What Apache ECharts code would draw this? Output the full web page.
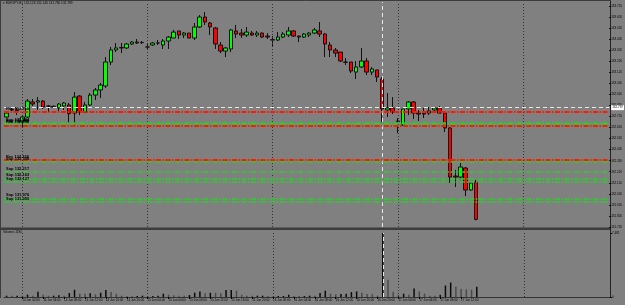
<!DOCTYPE html>
<html>
<head>
<meta charset="utf-8">
<script src="https://cdn.jsdelivr.net/npm/echarts@6/dist/echarts.min.js"></script>
<style>
html, body { margin: 0; padding: 0; background: #808080; }
#chart { width: 625px; height: 305px; }
</style>
</head>
<body>
<div id="chart"></div>
<script>
// EURJPY H1, 11 Jun 2021 21:00 .. 17 Jun 2021 15:00
var symbol = 'EURJPY,H1';

var opens = [132.715, 132.778, 132.776, 132.679, 132.715, 132.851, 132.851, 132.860, 132.815, 132.812,
  132.797, 132.815, 132.824, 132.751, 132.905, 132.760, 132.824, 132.914, 132.960, 132.996,
  133.213, 133.322, 133.345, 133.340, 133.376, 133.394, 133.388, 133.349, 133.367, 133.385,
  133.367, 133.403, 133.430, 133.494, 133.457, 133.475, 133.430, 133.530, 133.620, 133.566,
  133.521, 133.367, 133.312, 133.331, 133.494, 133.475, 133.457, 133.475, 133.457, 133.475,
  133.448, 133.415, 133.412, 133.439, 133.457, 133.494, 133.448, 133.439, 133.457, 133.475,
  133.494, 133.466, 133.367, 133.322, 133.303, 133.213, 133.213, 133.122, 133.168, 133.222,
  133.122, 133.141, 133.059, 132.779, 132.797, 132.679, 132.643, 132.788, 132.851, 132.751,
  132.751, 132.751, 132.779, 132.797, 132.751, 132.616, 132.181, 132.172, 132.254, 132.055,
  132.126];
var highs = [132.760, 132.797, 132.797, 132.724, 132.878, 132.878, 132.896, 132.869, 132.824, 132.820,
  132.842, 132.851, 132.842, 132.941, 132.914, 132.851, 132.932, 132.978, 133.023, 133.258,
  133.349, 133.385, 133.385, 133.385, 133.403, 133.421, 133.403, 133.376, 133.394, 133.412,
  133.421, 133.448, 133.503, 133.494, 133.484, 133.475, 133.566, 133.638, 133.665, 133.575,
  133.530, 133.394, 133.349, 133.512, 133.548, 133.512, 133.530, 133.494, 133.494, 133.480,
  133.475, 133.448, 133.484, 133.484, 133.530, 133.503, 133.452, 133.475, 133.484, 133.521,
  133.575, 133.475, 133.394, 133.340, 133.303, 133.249, 133.213, 133.222, 133.340, 133.249,
  133.168, 133.141, 133.077, 132.932, 132.896, 132.706, 132.788, 132.860, 132.860, 132.779,
  132.797, 132.806, 132.806, 132.815, 132.760, 132.625, 132.236, 132.299, 132.263, 132.127,
  132.146];
var lows = [132.706, 132.760, 132.733, 132.616, 132.706, 132.815, 132.779, 132.788, 132.760, 132.797,
  132.751, 132.779, 132.661, 132.625, 132.733, 132.751, 132.815, 132.869, 132.887, 132.978,
  133.186, 133.303, 133.294, 133.331, 133.367, 133.376, 133.376, 133.322, 133.358, 133.367,
  133.331, 133.331, 133.430, 133.421, 133.430, 133.430, 133.412, 133.521, 133.548, 133.457,
  133.331, 133.294, 133.258, 133.303, 133.430, 133.430, 133.439, 133.448, 133.439, 133.430,
  133.421, 133.349, 133.403, 133.430, 133.439, 133.439, 133.394, 133.430, 133.439, 133.466,
  133.439, 133.258, 133.258, 133.258, 133.213, 133.186, 133.113, 133.059, 133.159, 133.095,
  133.095, 133.032, 132.661, 132.715, 132.742, 132.570, 132.634, 132.733, 132.697, 132.679,
  132.706, 132.733, 132.751, 132.751, 132.579, 132.118, 132.082, 132.145, 132.000, 132.046,
  131.780];
var closes = [132.751, 132.782, 132.770, 132.715, 132.860, 132.833, 132.862, 132.806, 132.812, 132.805,
  132.833, 132.842, 132.745, 132.896, 132.760, 132.824, 132.914, 132.960, 133.005, 133.213,
  133.322, 133.340, 133.340, 133.376, 133.394, 133.385, 133.390, 133.349, 133.385, 133.385,
  133.403, 133.439, 133.484, 133.457, 133.475, 133.430, 133.530, 133.620, 133.575, 133.530,
  133.376, 133.312, 133.340, 133.503, 133.466, 133.457, 133.484, 133.457, 133.475, 133.439,
  133.439, 133.412, 133.439, 133.466, 133.494, 133.448, 133.439, 133.466, 133.475, 133.503,
  133.466, 133.376, 133.322, 133.294, 133.222, 133.210, 133.131, 133.168, 133.222, 133.122,
  133.150, 133.077, 132.788, 132.797, 132.760, 132.675, 132.788, 132.851, 132.751, 132.742,
  132.742, 132.770, 132.797, 132.751, 132.616, 132.172, 132.172, 132.263, 132.055, 132.118,
  131.789];
var volumes = [154, 149, 158, 152, 270, 154, 616, 270, 151, 156,
  193, 154, 462, 847, 385, 380, 424, 308, 501, 809,
  578, 385, 154, 116, 77, 116, 154, 116, 118, 154,
  385, 270, 193, 154, 150, 231, 501, 655, 424, 501,
  498, 424, 809, 812, 732, 270, 154, 151, 154, 157,
  116, 77, 116, 119, 270, 116, 113, 116, 154, 152,
  462, 732, 385, 308, 347, 385, 578, 655, 501, 347,
  344, 154, 7481, 2002, 616, 231, 385, 270, 1001, 655,
  385, 154, 151, 270, 1348, 1694, 1194, 924, 886, 847,
  1194];

// horizontal levels drawn on the chart (R = red, S = green)
var levelPrices = [132.760, 132.664, 132.649, 132.636, 132.326, 132.308, 132.217, 132.163, 132.127, 131.976, 131.950];
var levelKinds = ['R', 'S', 'S', 'R', 'R', 'S', 'S', 'S', 'S', 'S', 'S'];
var hLinePrice = 132.797;   // white dashed horizontal line
var vLineBar = 72;          // white dashed vertical line (16 Jun 21:00)

// price axis: ticks every 0.1 from 131.720
var priceMin = 131.72;
var priceStep = 0.1;
var priceMax = 133.756;

var months = ['Jan', 'Feb', 'Mar', 'Apr', 'May', 'Jun', 'Jul', 'Aug', 'Sep', 'Oct', 'Nov', 'Dec'];
var totalSlots = 116;
var categories = [];
var fridayStart = Date.UTC(2021, 5, 11, 21);
var mondayStart = Date.UTC(2021, 5, 14, 0);
for (var i = 0; i < totalSlots; i++) {
    var t = i < 3 ? fridayStart + i * 3600e3 : mondayStart + (i - 3) * 3600e3;
    var d = new Date(t);
    categories.push({ y: d.getUTCFullYear(), m: d.getUTCMonth(), d: d.getUTCDate(), h: d.getUTCHours() });
}
var catNames = categories.map(function (c) {
    return c.y + '.' + (c.m + 1) + '.' + c.d + ' ' + c.h;
});
var daySeps = [];
categories.forEach(function (c, i) { if (c.h === 0) daySeps.push(catNames[i]); });

function pad(n) { return n < 10 ? '0' + n : '' + n; }
function showLabel(index) {
    return index === 0 || (index >= 3 && (index - 3) % 4 === 0 && index < opens.length);
}

var chart = echarts.init(document.getElementById('chart'));

var candleData = opens.map(function (o, i) { return [o, closes[i], lows[i], highs[i]]; });
var volMax = Math.max.apply(null, volumes);
var last = opens.length - 1;

var font = 'Liberation Sans';
var levelLines = levelPrices.map(function (p, i) {
    var red = levelKinds[i] === 'R';
    return {
        yAxis: p,
        lineStyle: { color: red ? '#ff1a00' : '#2ecc2e', type: [5, 1.5, 1.5, 1.5], width: red ? 2 : 1.5 },
        label: {
            show: true, position: 'insideStartTop', distance: [2, 1],
            formatter: (red ? 'Res ' : 'Sup ') + p.toFixed(3),
            fontSize: 4, fontWeight: 'bold', color: '#000', fontFamily: font
        }
    };
});
var sepLines = daySeps.map(function (c) {
    return { xAxis: c, lineStyle: { color: '#333', type: [1, 2], width: 1 }, label: { show: false } };
});
var vLine = { xAxis: catNames[vLineBar], lineStyle: { color: '#e8e8e8', type: [4, 3], width: 1 }, label: { show: false } };

var option = {
    backgroundColor: '#808080',
    animation: false,
    textStyle: { fontFamily: font },
    grid: [
        { left: 4, right: 15, top: 2, height: 225 },
        { left: 4, right: 15, top: 233, height: 64 }
    ],
    xAxis: [
        {
            type: 'category', gridIndex: 0, data: catNames, boundaryGap: true,
            axisLine: { show: false }, axisTick: { show: false }, axisLabel: { show: false }
        },
        {
            type: 'category', gridIndex: 1, data: catNames, boundaryGap: true,
            axisLine: { show: true, lineStyle: { color: '#333', width: 1 } },
            axisTick: { show: true, interval: showLabel, length: 2, lineStyle: { color: '#000' }, alignWithLabel: true },
            axisLabel: {
                interval: showLabel, align: 'left', margin: 2, fontSize: 3, color: '#000',
                formatter: function (v, idx) {
                    var c = categories[idx];
                    if (idx === 0) return c.d + ' ' + months[c.m] + ' ' + c.y;
                    return c.d + ' ' + months[c.m] + ' ' + pad(c.h) + ':00';
                }
            }
        }
    ],
    yAxis: [
        {
            type: 'value', gridIndex: 0, position: 'right', min: priceMin, max: priceMax, interval: priceStep,
            axisLine: { show: false },
            axisTick: { show: true, length: 2, lineStyle: { color: '#000' } },
            axisLabel: { showMaxLabel: false, margin: 2, fontSize: 3, color: '#000',
                formatter: function (v) { return v.toFixed(3); } },
            splitLine: { show: false }
        },
        {
            type: 'value', gridIndex: 1, position: 'right', min: 0, max: volMax, interval: volMax,
            axisLine: { show: false },
            axisTick: { show: true, length: 2, lineStyle: { color: '#000' } },
            axisLabel: { margin: 2, fontSize: 3, color: '#000' },
            splitLine: { show: false }
        }
    ],
    series: [
        {
            type: 'candlestick', xAxisIndex: 0, yAxisIndex: 0,
            data: candleData,
            barWidth: 4,
            itemStyle: { color: '#00ff00', color0: '#ff0000', borderColor: '#111', borderColor0: '#111', borderWidth: 1 },
            markLine: {
                symbol: 'none', silent: true, animation: false,
                data: sepLines.concat([vLine]).concat(levelLines).concat([
                    {
                        yAxis: hLinePrice,
                        lineStyle: { color: '#e8e8e8', type: [4, 3], width: 1 },
                        label: { show: true, position: 'end', distance: 2, formatter: hLinePrice.toFixed(3),
                            backgroundColor: '#fff', color: '#000', fontSize: 3, padding: [1, 1] }
                    },
                    {
                        yAxis: closes[last],
                        lineStyle: { opacity: 0 },
                        label: { show: true, position: 'end', distance: 2, formatter: closes[last].toFixed(3),
                            backgroundColor: '#000', color: '#fff', fontSize: 3, padding: [1, 1] }
                    }
                ])
            }
        },
        {
            type: 'bar', xAxisIndex: 1, yAxisIndex: 1,
            data: volumes,
            barWidth: 1.5,
            itemStyle: {
                color: function (p) {
                    return p.dataIndex > 0 && volumes[p.dataIndex] < volumes[p.dataIndex - 1] ? '#4a4a4a' : '#0a0a0a';
                }
            },
            markLine: {
                symbol: 'none', silent: true, animation: false,
                data: sepLines.concat([vLine])
            }
        }
    ],
    graphic: [
        { type: 'rect', shape: { x: 0, y: 227.5, width: 610, height: 2.5 }, style: { fill: '#3c3c3c' }, silent: true },
        { type: 'line', shape: { x1: 610.5, y1: 0, x2: 610.5, y2: 298 }, style: { stroke: '#222', lineWidth: 1 }, silent: true },
        { type: 'line', shape: { x1: 0.5, y1: 0, x2: 0.5, y2: 298 }, style: { stroke: '#3c3c3c', lineWidth: 1 }, silent: true },
        { type: 'line', shape: { x1: 0, y1: 0.5, x2: 611, y2: 0.5 }, style: { stroke: '#3c3c3c', lineWidth: 1 }, silent: true },
        {
            type: 'text', left: 3, top: 2,
            style: {
                text: '\u25BE ' + symbol + ' ' + opens[last].toFixed(3) + ' ' + highs[last].toFixed(3) + ' ' +
                    lows[last].toFixed(3) + ' ' + closes[last].toFixed(3),
                fontSize: 3.2, fill: '#000', fontFamily: font
            }
        },
        {
            type: 'text', left: 3, top: 231,
            style: { text: 'Volumes ' + volumes[last], fontSize: 3, fill: '#000', fontFamily: font }
        }
    ]
};

chart.setOption(option);
</script>
</body>
</html>
